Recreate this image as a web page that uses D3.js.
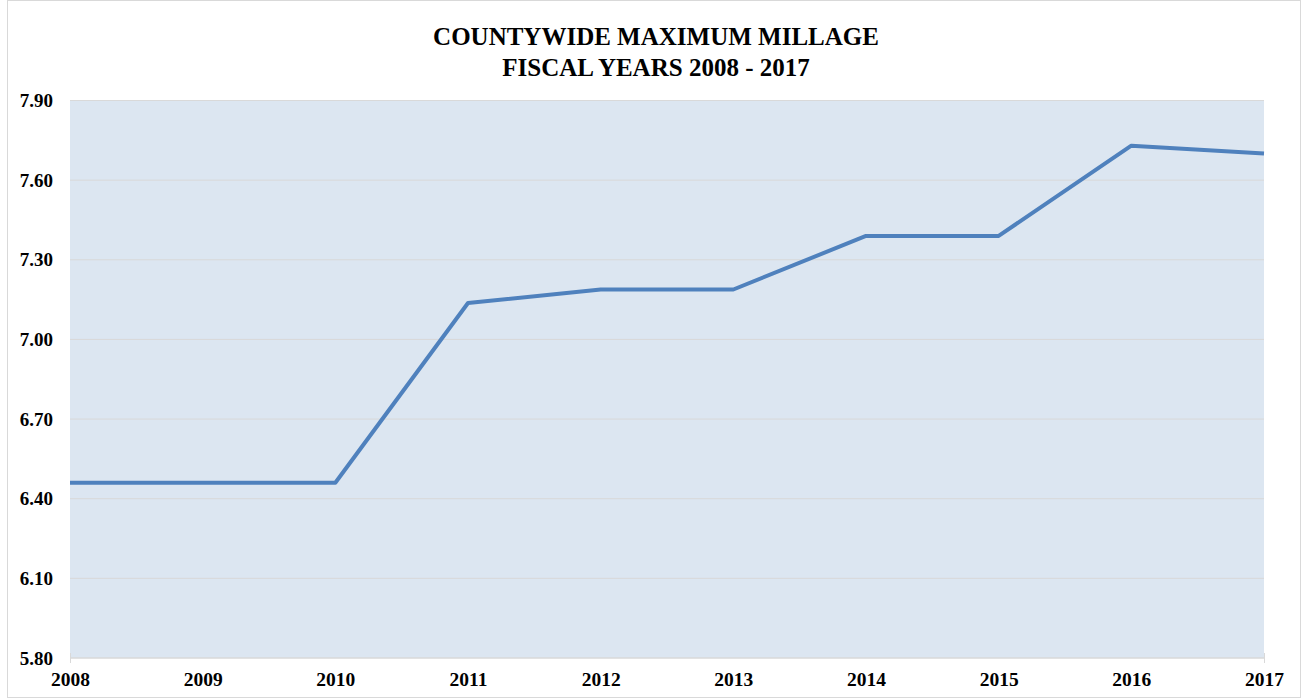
<!DOCTYPE html>
<html>
<head>
<meta charset="utf-8">
<script src="https://cdn.jsdelivr.net/npm/d3@7"></script>
<style>
  body { margin: 0; background: #fff; }
  svg { display: block; font-family: "Liberation Serif", "Times New Roman", serif; }
</style>
</head>
<body>
<svg id="chart"></svg>
<script>
// ---- data ----
const years = ["2008", "2009", "2010", "2011", "2012", "2013", "2014", "2015", "2016", "2017"];
const millage = [6.46, 6.46, 6.46, 7.137, 7.188, 7.188, 7.39, 7.39, 7.73, 7.70];
const yTicks = [5.80, 6.10, 6.40, 6.70, 7.00, 7.30, 7.60, 7.90];
const titleLines = ["COUNTYWIDE MAXIMUM MILLAGE", "FISCAL YEARS 2008 - 2017"];

const width = 1302, height = 698;
const margin = { top: 100.5, right: 38, bottom: 40, left: 70 };

const svg = d3.select("#chart").attr("width", width).attr("height", height);

// outer chart border
svg.append("rect")
  .attr("x", 7.5).attr("y", 0.5)
  .attr("width", width - 9).attr("height", height - 1)
  .attr("fill", "#fff").attr("stroke", "#d9d9d9");

// x is a point scale so first / last year sit on the plot edges
const x = d3.scalePoint().domain(years).range([margin.left, width - margin.right]);
const y = d3.scaleLinear().domain([5.8, 7.9]).range([height - margin.bottom, margin.top]);

// plot area background
svg.append("rect")
  .attr("x", margin.left).attr("y", margin.top)
  .attr("width", x.range()[1] - margin.left)
  .attr("height", y(5.8) - margin.top)
  .attr("fill", "#dce6f1");

// gridlines
svg.append("g")
  .selectAll("line")
  .data(yTicks.slice(1))
  .join("line")
    .attr("x1", margin.left).attr("x2", x.range()[1])
    .attr("y1", d => y(d)).attr("y2", d => y(d))
    .attr("stroke", "#d9d9d9").attr("stroke-width", 1);

// x axis (line + small ticks at ends)
const xAxis = svg.append("g")
  .attr("transform", `translate(0,${y(5.8)})`)
  .call(d3.axisBottom(x).tickSize(5).tickValues(years));
xAxis.select(".domain").attr("stroke", "#d9d9d9").attr("stroke-width", 1.5)
  .attr("d", `M${margin.left},0H${x.range()[1]}`);
xAxis.selectAll(".tick line").attr("stroke", "#d9d9d9")
  .attr("y1", -5).attr("y2", 5)
  .attr("opacity", d => (d === years[0] || d === years[years.length - 1]) ? 1 : 0);
xAxis.selectAll(".tick text")
  .attr("y", 14)
  .attr("font-family", "Liberation Serif, Times New Roman, serif")
  .attr("font-size", 19.5).attr("font-weight", "bold").attr("fill", "#000");

// y axis labels
const yAxis = svg.append("g")
  .attr("transform", `translate(${margin.left},0)`)
  .call(d3.axisLeft(y).tickValues(yTicks).tickFormat(d3.format(".2f")).tickSize(0).tickPadding(17));
yAxis.select(".domain").remove();
yAxis.selectAll(".tick text")
  .attr("font-family", "Liberation Serif, Times New Roman, serif")
  .attr("font-size", 19).attr("font-weight", "bold").attr("fill", "#000");

// the line
const line = d3.line()
  .x((d, i) => x(years[i]))
  .y(d => y(d));

svg.append("path")
  .datum(millage)
  .attr("d", line)
  .attr("fill", "none")
  .attr("stroke", "#4f81bd")
  .attr("stroke-width", 4)
  .attr("stroke-linejoin", "round");

// title
svg.append("g")
  .selectAll("text")
  .data(titleLines)
  .join("text")
    .attr("x", 656).attr("y", (d, i) => 45 + i * 31)
    .attr("text-anchor", "middle")
    .attr("font-size", 25).attr("font-weight", "bold")
    .text(d => d);
</script>
</body>
</html>
